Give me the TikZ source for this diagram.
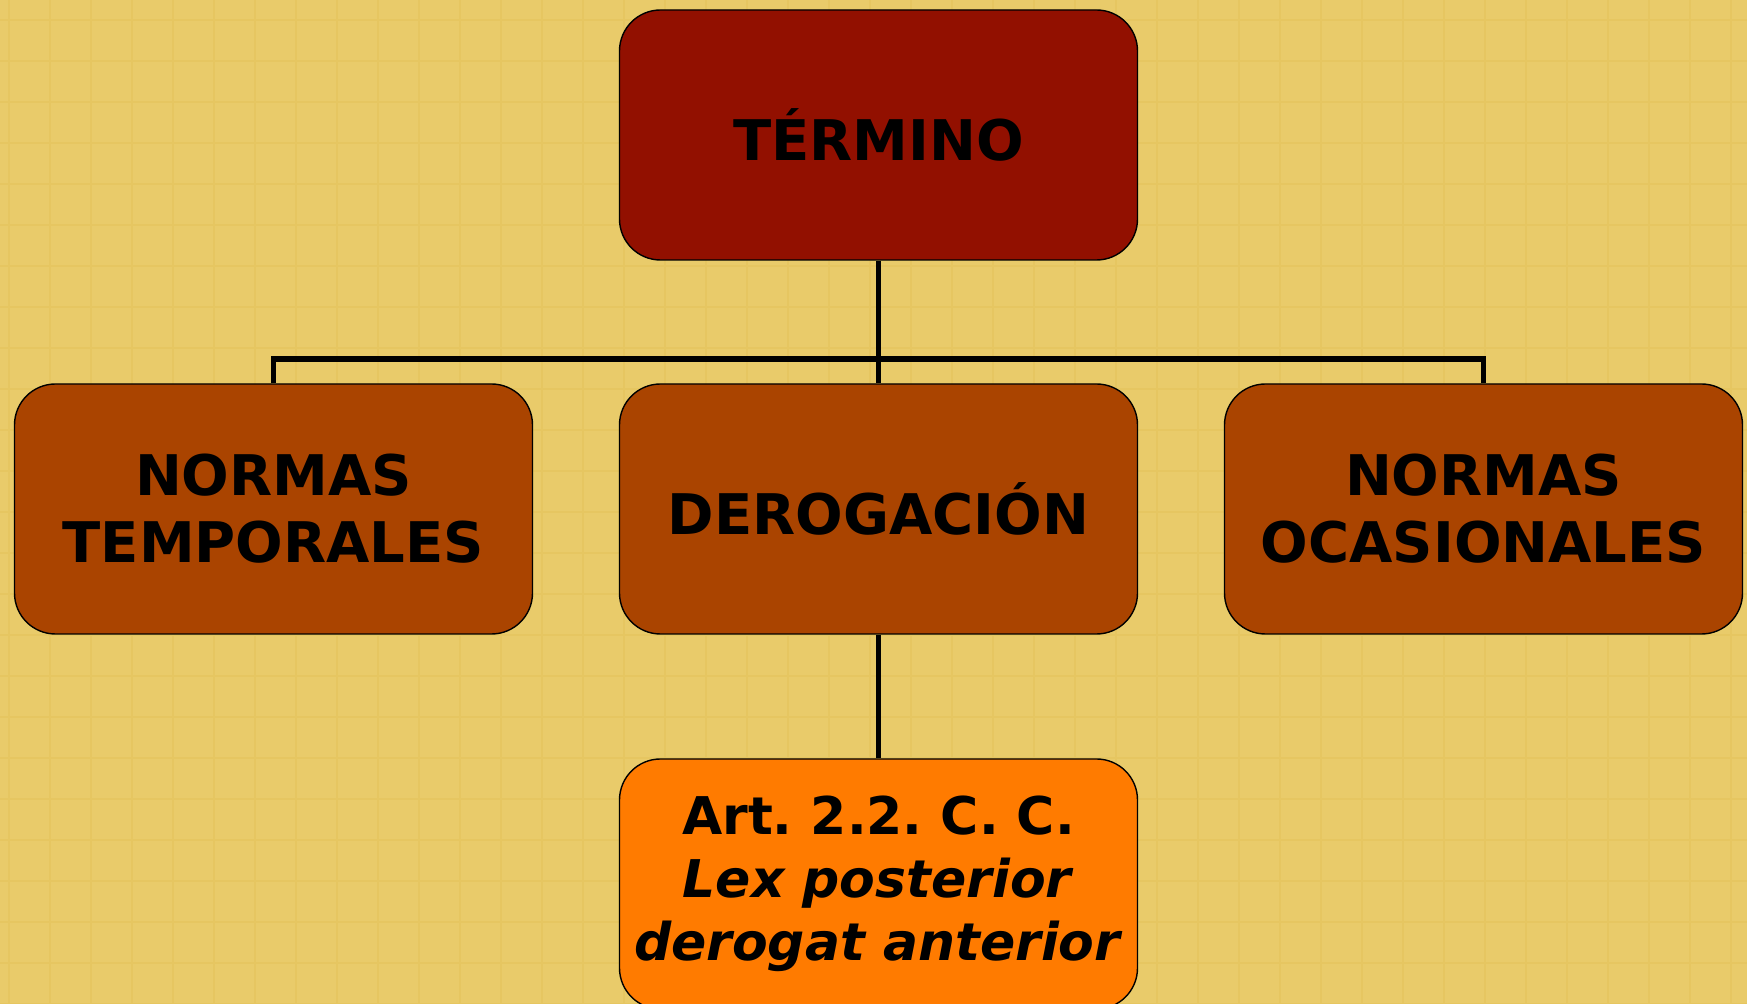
\documentclass[tikz,border=0pt]{standalone}
\usepackage{fontspec}
\setmainfont{DejaVu Sans}
\usetikzlibrary{positioning}
\definecolor{paper}{HTML}{E9CB6A}
\definecolor{paperLine}{HTML}{E6C661}
\definecolor{terminoRed}{HTML}{921000}
\definecolor{ramaBrown}{HTML}{AA4400}
\definecolor{hojaOrange}{HTML}{FF7B00}
\newcommand{\boxFont}[0]{\fontsize{28}{33.5}\selectfont\bfseries\frenchspacing}
\newcommand{\hojaFont}[0]{\fontsize{26}{31.5}\selectfont\bfseries\frenchspacing}

\begin{document}
\begin{tikzpicture}[x=0.5pt, y=-0.5pt]
  \tikzset{
    caja/.style={draw=black, line width=0.7pt, rounded corners=20.5pt,
      minimum width=259pt, minimum height=125pt, inner sep=0pt,
      align=center, text=black, font=\boxFont},
    conector/.style={draw=black, line width=2.7pt}
  }
  \clip (0,0) rectangle (1747,1004);
  \fill[paper] (0,0) rectangle (1747,1004);
  \draw[paperLine, line width=0.9pt, shift={(9,20)}] (-41,-41) grid[step=20.5pt] (1760,1000);
  % boxes
  \node[caja, fill=terminoRed] (termino) at (878.5,135) {TÉRMINO};
  \node[caja, fill=ramaBrown] (normasT) at (273.5,509) {NORMAS\\TEMPORALES};
  \node[caja, fill=ramaBrown] (derogacion) at (878.5,509) {DEROGACIÓN};
  \node[caja, fill=ramaBrown] (normasO) at (1483.5,509) {NORMAS\\OCASIONALES};
  \node[caja, fill=hojaOrange, font=\hojaFont] (articulo) at (878.5,884)
    {Art. 2.2. C. C.\\\textit{Lex posterior}\\\textit{derogat anterior}};
  % connectors
  \coordinate (barra) at (878.5,359);
  \draw[conector] (termino.south) -- (derogacion.north);
  \draw[conector] (normasT.north) |- (barra) -| (normasO.north);
  \draw[conector] (derogacion.south) -- (articulo.north);
\end{tikzpicture}
\end{document}
